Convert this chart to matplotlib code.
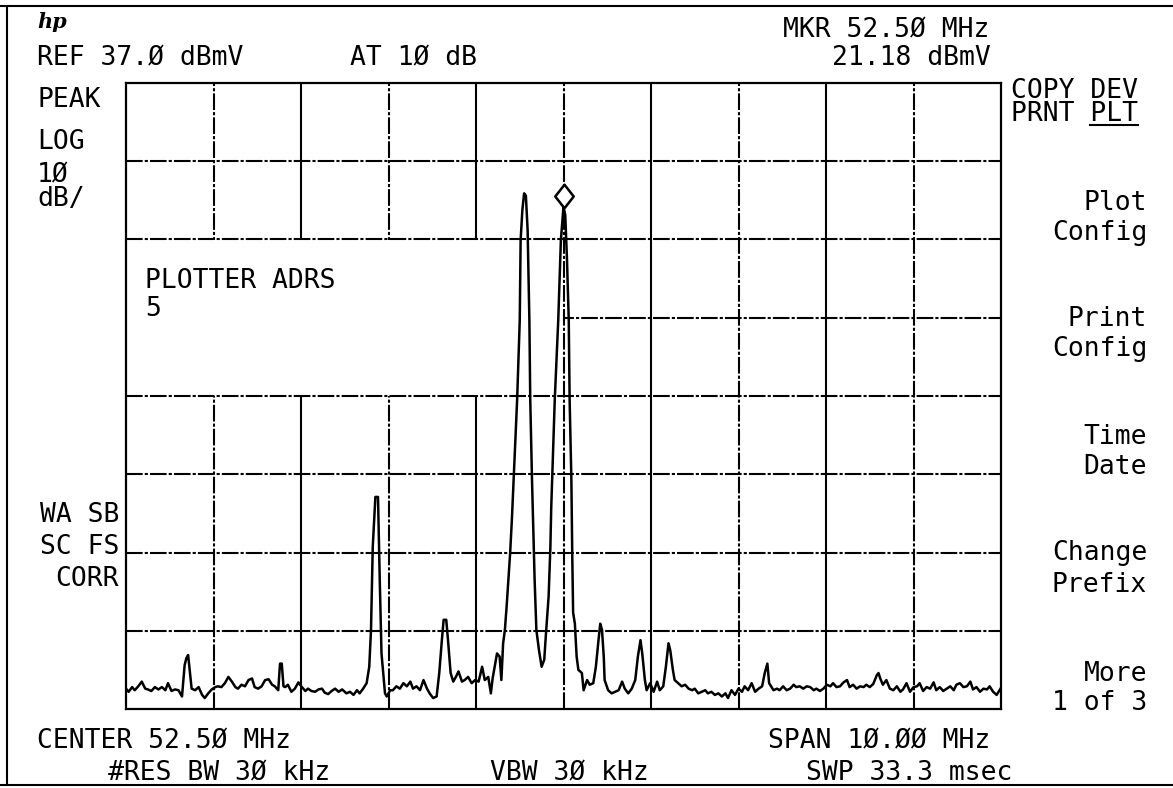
import matplotlib
matplotlib.use("Agg")
import matplotlib.pyplot as plt
from matplotlib.lines import Line2D
from matplotlib.patches import Rectangle
from matplotlib import transforms

# analyzer settings
ref_level = 37.0      # dBmV
db_per_div = 10.0
center_mhz = 52.50
span_mhz = 10.00
mkr_freq = 52.50
mkr_level = 21.18

# trace (MHz, dBmV)
trace_freq = [
    47.50, 47.53, 47.57, 47.60, 47.64, 47.68, 47.72, 47.75, 47.79, 47.83,
    47.87, 47.91, 47.95, 47.98, 48.02, 48.06, 48.10, 48.14, 48.17, 48.19,
    48.21, 48.23, 48.25, 48.29, 48.33, 48.37, 48.40, 48.44, 48.48, 48.52,
    48.55, 48.59, 48.63, 48.67, 48.71, 48.75, 48.78, 48.82, 48.86, 48.90,
    48.94, 48.97, 49.01, 49.05, 49.09, 49.13, 49.17, 49.20, 49.24, 49.26,
    49.28, 49.30, 49.32, 49.35, 49.39, 49.43, 49.47, 49.51, 49.55, 49.58,
    49.62, 49.66, 49.70, 49.74, 49.77, 49.81, 49.85, 49.89, 49.93, 49.97,
    50.02, 50.06, 50.10, 50.14, 50.17, 50.21, 50.25, 50.28, 50.30, 50.32,
    50.35, 50.38, 50.40, 50.42, 50.44, 50.46, 50.48, 50.52, 50.55, 50.59,
    50.63, 50.67, 50.71, 50.75, 50.78, 50.82, 50.86, 50.90, 50.94, 50.97,
    51.01, 51.05, 51.08, 51.11, 51.13, 51.16, 51.18, 51.21, 51.24, 51.27,
    51.30, 51.34, 51.37, 51.41, 51.45, 51.49, 51.53, 51.57, 51.60, 51.64,
    51.67, 51.69, 51.72, 51.74, 51.77, 51.79, 51.81, 51.83, 51.85, 51.87,
    51.89, 51.91, 51.93, 51.97, 52.00, 52.01, 52.03, 52.05, 52.07, 52.09,
    52.11, 52.12, 52.14, 52.15, 52.17, 52.19, 52.22, 52.25, 52.28, 52.30,
    52.33, 52.35, 52.36, 52.40, 52.44, 52.47, 52.50, 52.52, 52.54, 52.56,
    52.57, 52.59, 52.60, 52.61, 52.63, 52.65, 52.67, 52.71, 52.73, 52.77,
    52.80, 52.84, 52.87, 52.90, 52.92, 52.94, 52.96, 52.97, 53.01, 53.05,
    53.09, 53.13, 53.17, 53.20, 53.24, 53.28, 53.32, 53.35, 53.38, 53.40,
    53.43, 53.45, 53.49, 53.53, 53.57, 53.60, 53.64, 53.67, 53.70, 53.72,
    53.75, 53.77, 53.81, 53.85, 53.89, 53.93, 53.97, 54.00, 54.04, 54.08,
    54.12, 54.15, 54.19, 54.23, 54.27, 54.31, 54.35, 54.38, 54.42, 54.46,
    54.50, 54.54, 54.57, 54.61, 54.65, 54.69, 54.73, 54.77, 54.80, 54.83,
    54.85, 54.90, 54.94, 54.97, 55.01, 55.05, 55.09, 55.13, 55.16, 55.20,
    55.24, 55.28, 55.32, 55.36, 55.39, 55.43, 55.47, 55.51, 55.55, 55.58,
    55.62, 55.66, 55.70, 55.74, 55.77, 55.81, 55.85, 55.89, 55.93, 55.96,
    56.00, 56.04, 56.08, 56.10, 56.12, 56.15, 56.19, 56.23, 56.27, 56.31,
    56.35, 56.38, 56.42, 56.46, 56.50, 56.54, 56.57, 56.61, 56.65, 56.69,
    56.73, 56.76, 56.80, 56.84, 56.88, 56.92, 56.96, 56.99, 57.03, 57.07,
    57.11, 57.15, 57.18, 57.22, 57.26, 57.30, 57.34, 57.37, 57.41, 57.45,
    57.50,
]
trace_dbmv = [
    -40.4, -40.8, -40.2, -40.6, -40.1, -39.5, -40.4, -40.5, -40.7, -40.2,
    -40.5, -40.2, -40.6, -39.7, -40.7, -40.5, -40.6, -41.4, -37.4, -36.5,
    -36.1, -38.2, -40.4, -40.6, -40.2, -41.2, -41.6, -41.0, -40.5, -40.2,
    -40.1, -40.2, -39.7, -38.9, -39.5, -40.2, -40.4, -39.9, -40.1, -39.3,
    -39.1, -40.2, -40.4, -40.1, -39.3, -39.2, -39.9, -40.1, -40.6, -37.2,
    -37.2, -40.1, -40.2, -39.9, -40.8, -40.4, -39.6, -40.2, -40.7, -40.4,
    -40.7, -40.8, -40.5, -40.4, -40.9, -41.1, -40.7, -40.4, -40.8, -40.5,
    -41.0, -40.8, -41.2, -40.6, -41.0, -40.4, -39.7, -37.6, -32.9, -22.3,
    -15.9, -15.9, -26.5, -35.9, -38.4, -41.0, -41.4, -40.6, -40.6, -40.1,
    -40.4, -39.7, -40.1, -39.5, -40.4, -40.1, -40.6, -39.3, -40.4, -41.0,
    -41.6, -41.4, -38.4, -34.2, -31.6, -31.6, -34.2, -38.4, -39.5, -38.9,
    -38.2, -39.5, -39.3, -38.9, -39.7, -39.3, -39.5, -37.6, -39.3, -38.9,
    -41.0, -39.1, -37.2, -35.9, -36.3, -39.3, -34.6, -32.9, -29.9, -26.5,
    -23.1, -18.8, -13.7, -3.5, 6.7, 16.9, 20.8, 22.9, 22.6, 18.2,
    6.7, -3.5, -13.7, -18.0, -26.5, -32.9, -35.5, -37.6, -36.7, -33.3,
    -28.6, -22.3, -17.2, -3.5, 6.7, 16.9, 21.2, 20.1, 14.4, 6.7,
    -3.5, -13.7, -23.3, -30.7, -32.1, -36.3, -38.0, -38.4, -40.6, -39.3,
    -39.9, -39.7, -37.6, -34.2, -32.1, -32.9, -36.3, -39.3, -40.6, -41.0,
    -40.8, -40.6, -39.5, -40.4, -41.0, -40.4, -39.3, -36.3, -34.2, -35.9,
    -39.3, -40.6, -39.7, -40.8, -39.5, -40.6, -40.1, -37.6, -34.6, -35.5,
    -38.0, -39.3, -39.7, -40.1, -39.9, -40.4, -40.6, -40.4, -41.0, -40.8,
    -40.6, -41.0, -40.8, -41.2, -41.0, -41.4, -41.0, -41.6, -40.6, -41.2,
    -40.4, -40.8, -40.1, -40.6, -39.7, -40.8, -40.4, -40.1, -38.4, -37.2,
    -39.7, -40.6, -40.4, -40.6, -40.1, -40.6, -40.4, -39.9, -40.2, -40.1,
    -40.4, -40.1, -40.2, -40.6, -40.4, -40.7, -40.4, -39.9, -40.1, -39.7,
    -40.2, -40.1, -39.6, -39.3, -40.2, -39.9, -40.4, -40.1, -40.2, -39.9,
    -40.2, -39.8, -38.7, -38.4, -39.1, -39.9, -39.3, -40.4, -40.6, -40.1,
    -40.8, -40.5, -39.7, -40.8, -40.2, -40.1, -39.7, -40.7, -40.2, -40.4,
    -39.6, -40.6, -40.2, -40.7, -40.4, -40.1, -40.6, -39.9, -39.7, -40.2,
    -40.1, -39.5, -40.5, -40.2, -40.8, -40.4, -40.5, -40.1, -40.8, -41.2,
    -40.3,
]

softkeys = ["Plot", "Config", "Print", "Config", "Time", "Date",
            "Change", "Prefix", "More", "1 of 3"]
softkey_rows = [210, 240, 326, 356, 444, 474, 560, 592, 681, 710]


def hp(s):
    # the analyzer prints zeros slashed
    return s.replace("0", "\u00d8")


W, H = 1173, 788
FONT = "DejaVu Sans Mono"
FS = 19

fig = plt.figure(figsize=(W / 100, H / 100), dpi=100)
fig.patch.set_facecolor("white")

ax = fig.add_axes([126 / W, 1 - 709 / H, 875 / W, 626 / H])
start = center_mhz - span_mhz / 2
stop = center_mhz + span_mhz / 2
floor = ref_level - 8 * db_per_div
ax.set_xlim(start, stop)
ax.set_ylim(floor, ref_level)
ax.set_xticks([])
ax.set_yticks([])
for sp in ax.spines.values():
    sp.set_linewidth(1.6)
    sp.set_color("black")

dash = (0, (8, 1.0, 1.5, 1.0))
# graticule
for i in range(1, 10):
    f = start + i * span_mhz / 10
    ls = "-" if i % 2 == 0 else dash
    ax.axvline(f, color="black", lw=1.5, ls=ls, zorder=3 if i == 5 else 1)
for j in range(1, 8):
    lvl = ref_level - j * db_per_div
    ax.axhline(lvl, color="black", lw=1.5, ls=dash, zorder=3 if j in (2, 4) else 1)

# the "PLOTTER ADRS" entry box blanks the upper-left graticule
ax.add_patch(Rectangle((start, ref_level - 4 * db_per_div), span_mhz / 2,
                       2 * db_per_div, facecolor="white", edgecolor="none", zorder=2))

ax.plot(trace_freq, trace_dbmv, color="black", lw=1.8, zorder=4)

# marker diamond sits just above the marked point
mk = [(0, -1), (0.78, 0), (0, 1), (-0.78, 0), (0, -1)]
off = transforms.offset_copy(ax.transData, fig=fig, y=8, units="points")
ax.plot([mkr_freq], [mkr_level], marker=mk, ms=17, mfc="white", mec="black",
        mew=1.8, transform=off, zorder=5, clip_on=False)


def put(x, y, s, ha="left", **kw):
    # y is the baseline of the last line, in pixels from the top
    return fig.text(x / W, 1 - y / H, s, ha=ha, va="baseline",
                    family=FONT, fontsize=FS, color="black", **kw)


put(37, 65, hp(f"REF {ref_level:.1f} dBmV"))
put(350, 65, hp("AT 10 dB"))
put(989, 37, hp(f"MKR {mkr_freq:.2f} MHz"), ha="right")
put(991, 65, hp(f"{mkr_level:.2f} dBmV"), ha="right")
copy = put(1011, 121, "COPY DEV\nPRNT PLT", linespacing=0.87)

put(37, 107, "PEAK")
put(37, 149, "LOG")
put(37, 206, hp(f"{db_per_div:.0f}") + "\ndB/", linespacing=0.87)

for lab, row in zip(softkeys, softkey_rows):
    put(1147, row, lab, ha="right")

put(145, 288, "PLOTTER ADRS")
put(145, 316, "5")

for lab, row in zip(["WA SB", "SC FS", "CORR"], [522, 554, 586]):
    put(119, row, lab, ha="right")

put(37, 748, hp(f"CENTER {center_mhz:.2f} MHz"))
put(990, 748, hp(f"SPAN {span_mhz:.2f} MHz"), ha="right")
put(108, 780, hp("#RES BW 30 kHz"))
put(490, 780, hp("VBW 30 kHz"))
put(1012, 780, "SWP 33.3 msec", ha="right")

fig.text(37 / W, 1 - 28 / H, "hp", family="DejaVu Serif", fontstyle="italic",
         fontweight="bold", fontsize=15)

# underline the active softkey choice (PLT)
r = fig.canvas.get_renderer()
bb = copy.get_window_extent(renderer=r)
x0 = bb.x0 + bb.width * 5 / 8
fig.add_artist(Line2D([x0 / W, bb.x1 / W], [1 - 125 / H, 1 - 125 / H],
                      color="black", lw=1.5))

# page frame of the plotter sheet
fig.add_artist(Line2D([0, 1], [1 - 6 / H, 1 - 6 / H], color="black", lw=1.5))
fig.add_artist(Line2D([7 / W, 7 / W], [1 - 6 / H, 1 - 785 / H], color="black", lw=1.5))
fig.add_artist(Line2D([0, 1], [1 - 785 / H, 1 - 785 / H], color="black", lw=1.5))

fig.savefig("out.png", dpi=100, facecolor="white")
